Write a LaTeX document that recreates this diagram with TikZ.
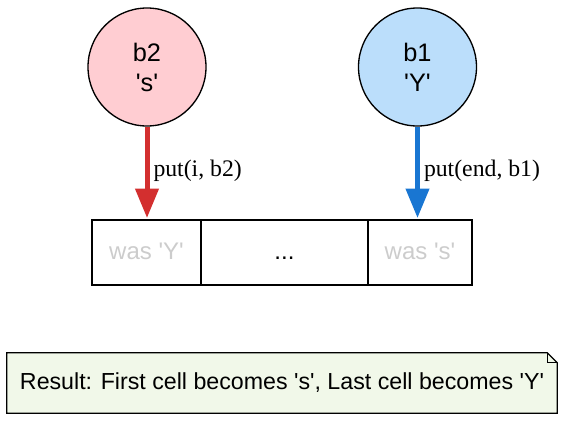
\documentclass[tikz,border=0pt]{standalone}
\usepackage{fontspec}
\setmainfont{Liberation Sans}
\newfontfamily\labelfont{Liberation Serif}
\usetikzlibrary{arrows.meta, positioning, backgrounds}
\definecolor{pinkfill}{HTML}{FFCDD2}
\definecolor{bluefill}{HTML}{BBDEFB}
\definecolor{putred}{HTML}{D32F2F}
\definecolor{putblue}{HTML}{1976D2}
\definecolor{notefill}{HTML}{F1F8E9}
\definecolor{oldgray}{HTML}{CCCCCC}
\newcommand{\quoted}[1]{\textquotesingle#1\textquotesingle}

\begin{document}
\begin{tikzpicture}[x=0.75pt, y=-0.75pt,
  ball/.style={circle, draw=black, line width=1pt, minimum size=88.5pt, inner sep=0pt, align=center, font=\fontsize{19}{22.5}\selectfont},
  cell/.style={draw=black, line width=1.4pt, minimum height=48.75pt, inner sep=0pt, outer sep=0pt, text height=13pt, text depth=3pt, font=\fontsize{18}{20}\selectfont},
  put/.style={line width=3.75pt, -{Triangle[length=22pt, width=17pt]}, shorten >=1.5pt},
  putlabel/.style={right, inner sep=3pt, text=black, font=\labelfont\fontsize{17.8}{20}\selectfont},
  notebox/.style={minimum width=412.5pt, minimum height=45pt, inner sep=0pt, font=\fontsize{17.4}{20}\selectfont}]
  \useasboundingbox (0,0) rectangle (565,421);

  % the two boxed values
  \node[ball, fill=pinkfill] (b2) at (147,67) {b2\\\quoted{s}};
  \node[ball, fill=bluefill] (b1) at (417.5,67) {b1\\\quoted{Y}};

  % the array
  \node[cell, minimum width=81.75pt, text=oldgray] (cellA) at (146.5,252.5) {was \quoted{Y}};
  \node[cell, minimum width=125.25pt, right=0pt of cellA] (cellB) {...};
  \node[cell, minimum width=78pt, text=oldgray, right=0pt of cellB] (cellC) {was \quoted{s}};

  \draw[put, putred] (b2.south) -- (b2.south |- cellA.north) node[putlabel, pos=0.47] {put(i, b2)};
  \draw[put, putblue] (b1.south) -- (b1.south |- cellC.north) node[putlabel, pos=0.47] {put(end, b1)};

  % result note
  \node[notebox] (note) at (282,383) {Result: First cell becomes \quoted{s}, Last cell becomes \quoted{Y}};
  \begin{scope}[on background layer]
    \draw[line width=1pt, fill=notefill] (note.south west) -- (note.north west) -- ([xshift=-7.5pt]note.north east) -- ([yshift=-7.5pt]note.north east) -- (note.south east) -- cycle;
    \draw[line width=1pt] ([xshift=-7.5pt]note.north east) -- ([xshift=-7.5pt, yshift=-7.5pt]note.north east) -- ([yshift=-7.5pt]note.north east);
  \end{scope}
\end{tikzpicture}
\end{document}
